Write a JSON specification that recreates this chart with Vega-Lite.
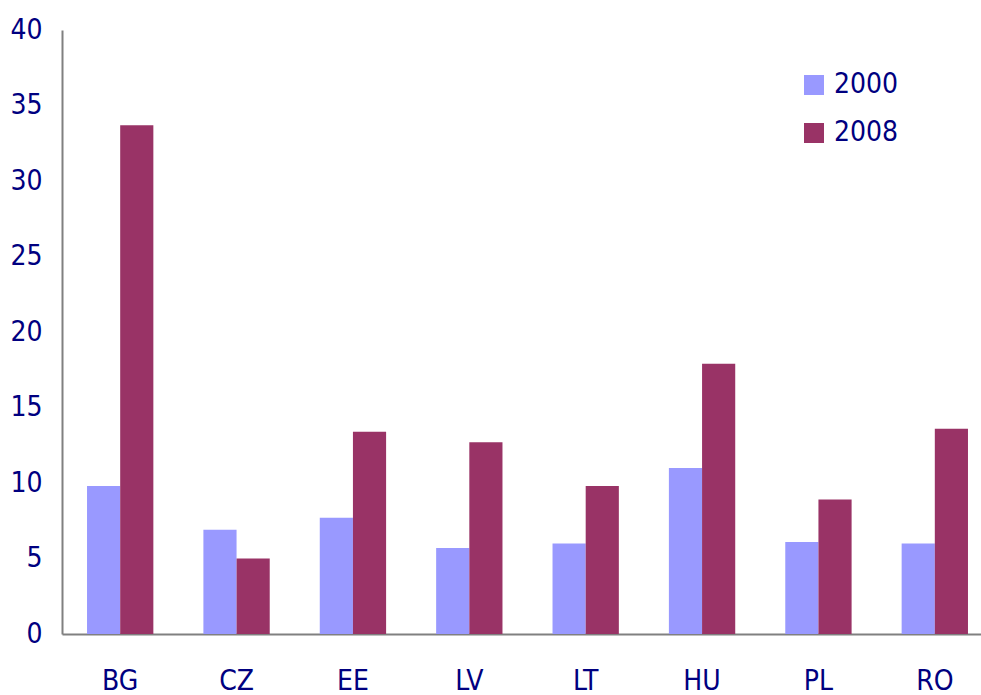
{
  "$schema": "https://vega.github.io/schema/vega-lite/v6.json",
  "autosize": {"type": "none"},
  "padding": {"left": 62, "top": 30, "right": 0, "bottom": 61},
  "width": 931,
  "height": 604,
  "background": "white",
  "data": {
    "values": [
      {"country": "BG", "year": "2000", "value": 9.8},
      {"country": "BG", "year": "2008", "value": 33.7},
      {"country": "CZ", "year": "2000", "value": 6.9},
      {"country": "CZ", "year": "2008", "value": 5.0},
      {"country": "EE", "year": "2000", "value": 7.7},
      {"country": "EE", "year": "2008", "value": 13.4},
      {"country": "LV", "year": "2000", "value": 5.7},
      {"country": "LV", "year": "2008", "value": 12.7},
      {"country": "LT", "year": "2000", "value": 6.0},
      {"country": "LT", "year": "2008", "value": 9.8},
      {"country": "HU", "year": "2000", "value": 11.0},
      {"country": "HU", "year": "2008", "value": 17.9},
      {"country": "PL", "year": "2000", "value": 6.1},
      {"country": "PL", "year": "2008", "value": 8.9},
      {"country": "RO", "year": "2000", "value": 6.0},
      {"country": "RO", "year": "2008", "value": 13.6}
    ]
  },
  "mark": {"type": "bar"},
  "encoding": {
    "x": {
      "field": "country", "type": "nominal", "sort": null,
      "scale": {"paddingInner": 0.43, "paddingOuter": 0.215},
      "axis": {"title": null, "labelAngle": 0, "ticks": false, "labelPadding": 33,
               "labelFont": "'Arial Narrow', 'Liberation Sans Narrow', 'DejaVu Sans Condensed', Roboto, sans-serif", "labelFontSize": 28, "labelColor": "#000080",
               "domainColor": "#808080", "domainWidth": 2, "grid": false}
    },
    "xOffset": {"field": "year", "type": "nominal"},
    "y": {
      "field": "value", "type": "quantitative",
      "scale": {"domain": [0, 40], "nice": false},
      "axis": {"title": null, "values": [0,5,10,15,20,25,30,35,40], "ticks": false, "grid": false,
               "labelPadding": 20, "labelFont": "'Arial Narrow', 'Liberation Sans Narrow', 'DejaVu Sans Condensed', Roboto, sans-serif", "labelFontSize": 28,
               "labelColor": "#000080", "domainColor": "#808080", "domainWidth": 2}
    },
    "color": {
      "field": "year", "type": "nominal",
      "scale": {"domain": ["2000", "2008"], "range": ["#9999FF", "#993366"]},
      "legend": {"title": null, "orient": "none", "legendX": 738, "legendY": 41,
                 "symbolType": "square", "symbolSize": 400, "symbolStrokeWidth": 0,
                 "labelFont": "'Arial Narrow', 'Liberation Sans Narrow', 'DejaVu Sans Condensed', Roboto, sans-serif", "labelFontSize": 28, "labelColor": "#000080",
                 "rowPadding": 20, "labelOffset": 6}
    }
  },
  "config": {"view": {"stroke": null}}
}
